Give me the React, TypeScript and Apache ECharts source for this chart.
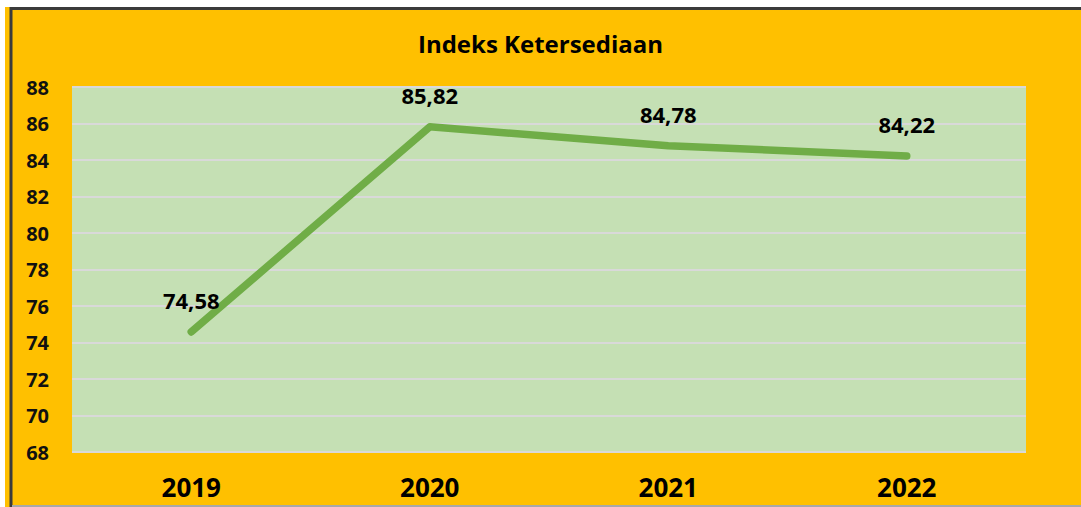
import React, { useEffect, useRef } from "react";
import * as echarts from "echarts";

const title = "Indeks Ketersediaan";
const years = ["2019", "2020", "2021", "2022"];
const indexValues = [74.58, 85.82, 84.78, 84.22];
const yMin = 68;
const yMax = 88;
const yStep = 2;

export default function App() {
  const ref = useRef<HTMLDivElement>(null);
  useEffect(() => {
    if (!ref.current) return;
    const chart = echarts.init(ref.current, null, { renderer: "svg" });
    const font = "'Open Sans', 'Noto Sans', sans-serif";
    chart.setOption({
      animation: false,
      backgroundColor: "#ffffff",
      textStyle: { fontFamily: font },
      title: {
        text: title,
        left: "center",
        top: 26,
        textStyle: { fontFamily: font, fontSize: 24, fontWeight: "bold", color: "#000" },
      },
      graphic: [
        { type: "rect", z: -10, shape: { x: 5, y: 7, width: 1076, height: 500 }, style: { fill: "#FFC000" } },
        { type: "line", z: -5, shape: { x1: 10, y1: 8.5, x2: 1081, y2: 8.5 }, style: { stroke: "#3b3b3b", lineWidth: 3 } },
        { type: "line", z: -5, shape: { x1: 11, y1: 7, x2: 11, y2: 507 }, style: { stroke: "#3b3b3b", lineWidth: 3 } },
        { type: "line", z: -5, shape: { x1: 12, y1: 506, x2: 1081, y2: 506 }, style: { stroke: "#a8a8a8", lineWidth: 2 } },
      ],
      grid: {
        left: 72,
        right: 55,
        top: 87,
        bottom: 55,
        show: true,
        backgroundColor: "#C5E0B4",
        borderWidth: 0,
      },
      xAxis: {
        type: "category",
        data: years,
        boundaryGap: true,
        axisLine: { show: false },
        axisTick: { show: false },
        axisLabel: { color: "#000", fontSize: 26, fontWeight: "bold", margin: 22, fontFamily: font },
      },
      yAxis: {
        type: "value",
        min: yMin,
        max: yMax,
        interval: yStep,
        axisLine: { show: false },
        axisTick: { show: false },
        axisLabel: { color: "#111", fontSize: 20, fontWeight: "bold", margin: 23, fontFamily: font },
        splitLine: { show: true, lineStyle: { color: "#D9D9D9", width: 2 } },
      },
      series: [
        {
          type: "line",
          data: indexValues,
          smooth: false,
          symbol: "circle",
          symbolSize: 1,
          showSymbol: true,
          itemStyle: { color: "rgba(0,0,0,0)" },
          lineStyle: { color: "#70AD47", width: 7.5, cap: "round", join: "round" },
          label: {
            show: true,
            position: "top",
            distance: 20,
            color: "#000",
            fontSize: 22,
            fontWeight: "bold",
            fontFamily: font,
            formatter: (p: any) => String(p.value).replace(".", ","),
          },
        },
      ],
    });
    return () => chart.dispose();
  }, []);
  return (
    <div
      ref={ref}
      style={{ position: "fixed", left: 0, top: 0, width: 1081, height: 507 }}
    />
  );
}
